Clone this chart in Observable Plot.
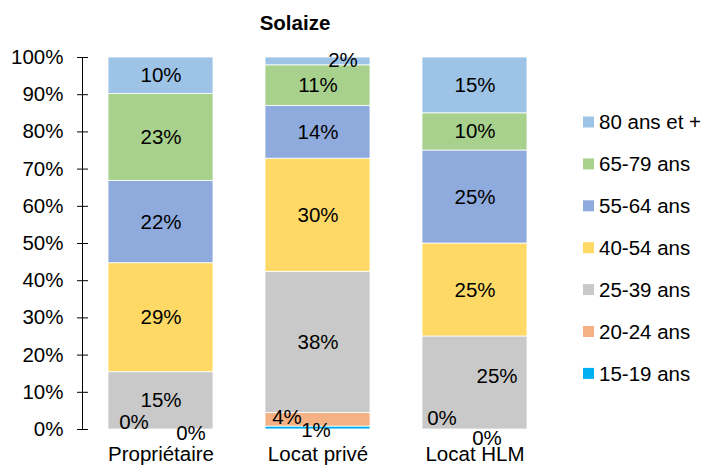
<!DOCTYPE html>
<html>
<head>
<meta charset="utf-8">
<script src="https://cdn.jsdelivr.net/npm/d3@7"></script>
<script src="https://cdn.jsdelivr.net/npm/@observablehq/plot@0.6"></script>
<style>
  body { margin: 0; background: #fff; }
  #chart { width: 706px; height: 465px; }
</style>
</head>
<body>
<div id="chart"></div>
<script>
const title = "Solaize";
const categories = ["Propriétaire", "Locat privé", "Locat HLM"];
const ageGroups = ["15-19 ans", "20-24 ans", "25-39 ans", "40-54 ans", "55-64 ans", "65-79 ans", "80 ans et +"];
const proprietaire = [0, 0, 15.4, 29.3, 22.1, 23.4, 9.8];
const locatPrive = [0.8, 3.6, 38.0, 30.4, 14.2, 10.9, 2.1];
const locatHLM = [0, 0, 25, 25, 25, 10, 15];
const labelsProprietaire = ["0%", "0%", "15%", "29%", "22%", "23%", "10%"];
const labelsLocatPrive = ["1%", "4%", "38%", "30%", "14%", "11%", "2%"];
const labelsLocatHLM = ["0%", "0%", "25%", "25%", "25%", "10%", "15%"];
const colors = ["#00B0F0", "#F4B183", "#C9C9C9", "#FFD966", "#8FAADC", "#A9D18E", "#9DC3E6"];
const yTicks = [0, 10, 20, 30, 40, 50, 60, 70, 80, 90, 100];

// label nudges (pixels) for labels Excel placed off-centre
const nudges = {
  "Propriétaire|15-19 ans": [-27, -7],
  "Propriétaire|20-24 ans": [30, 4],
  "Locat privé|15-19 ans": [-2, 2],
  "Locat privé|20-24 ans": [-31, -2],
  "Locat privé|80 ans et +": [25, -1],
  "Locat HLM|15-19 ans": [-33, -11],
  "Locat HLM|20-24 ans": [12, 9],
  "Locat HLM|25-39 ans": [22, -7]
};

const seriesByCat = [proprietaire, locatPrive, locatHLM];
const labelsByCat = [labelsProprietaire, labelsLocatPrive, labelsLocatHLM];
const rows = [];
categories.forEach((cat, ci) => {
  let acc = 0;
  ageGroups.forEach((age, ai) => {
    const v = seriesByCat[ci][ai];
    rows.push({cat, age, v, y1: acc, y2: acc + v, label: labelsByCat[ci][ai], key: cat + "|" + age});
    acc += v;
  });
});

const font = "'Liberation Sans', Arial, sans-serif";
const fs = 20.5;

const textOpts = {
  x: "cat",
  y: d => (d.y1 + d.y2) / 2,
  text: "label",
  fill: "#000",
  fontSize: fs
};

const nudgeMarks = Object.entries(nudges).map(([key, [dx, dy]]) =>
  Plot.text(rows.filter(d => d.key === key), {...textOpts, dx, dy})
);

const plot = Plot.plot({
  width: 706,
  height: 465,
  marginLeft: 82,
  marginRight: 153,
  marginTop: 57,
  marginBottom: 36,
  style: {fontFamily: font, fontSize: fs + "px", color: "#000", background: "#fff"},
  x: {domain: categories, padding: 0, label: null},
  y: {domain: [0, 100], label: null},
  color: {domain: ageGroups, range: colors},
  marks: [
    Plot.barY(rows.filter(d => d.v > 0), {
      x: "cat", y1: "y1", y2: "y2", fill: "age",
      stroke: "#fff", strokeWidth: 0.8, insetLeft: 26, insetRight: 26
    }),
    Plot.text(rows.filter(d => !(d.key in nudges)), textOpts),
    ...nudgeMarks,
    Plot.axisY({ticks: yTicks, tickFormat: d => d + "%", tickSize: 11, dx: 6, tickPadding: 14, fontSize: fs, stroke: "#000", strokeOpacity: 1}),
    Plot.axisX({tickSize: 0, tickPadding: 17, fontSize: fs}),
    Plot.frame({anchor: "left", stroke: "#000", strokeOpacity: 1})
  ]
});

document.getElementById("chart").appendChild(plot);

// title and legend added to the same SVG
const svg = d3.select(plot);
svg.append("text")
  .attr("x", 295).attr("y", 30)
  .attr("text-anchor", "middle")
  .attr("font-family", font)
  .attr("font-weight", "bold")
  .attr("font-size", fs)
  .attr("fill", "#000")
  .text(title);

const legendOrder = ageGroups.map((a, i) => ({a, c: colors[i]})).reverse();
const lg = svg.append("g").attr("font-family", font).attr("font-size", fs).attr("text-anchor", "start");
legendOrder.forEach((d, i) => {
  const cy = 122 + i * 41.9;
  lg.append("rect").attr("x", 583).attr("y", cy - 5.5).attr("width", 11).attr("height", 11).attr("fill", d.c);
  lg.append("text").attr("x", 599).attr("y", cy).attr("dy", "0.35em").attr("text-anchor", "start").attr("fill", "#000").text(d.a);
});
</script>
</body>
</html>
